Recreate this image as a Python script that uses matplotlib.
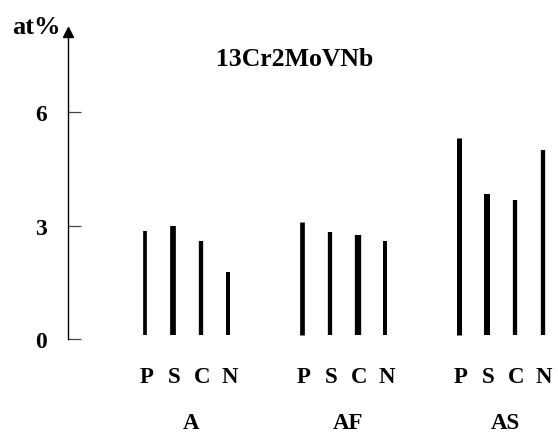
import matplotlib
matplotlib.use("Agg")
import matplotlib.pyplot as plt
import numpy as np

groups = ["A", "AF", "AS"]
elements = ["P", "S", "C", "N"]
values = {
    "A":  [2.87, 2.98, 2.59, 1.76],
    "AF": [3.09, 2.83, 2.74, 2.59],
    "AS": [5.32, 3.83, 3.68, 5.00],
}
yticks = [0, 3, 6]
title = "13Cr2MoVNb"
ylabel = "at%"

# style
bar_px = [[3.7, 5.7, 4.3, 4.0], [4.7, 4.3, 6.3, 4.0], [5.0, 6.0, 4.3, 4.3]]
group_step = 5.65
base = 0.1
font = "Liberation Serif"

W, H = 558, 439
fig = plt.figure(figsize=(W / 100, H / 100), dpi=100)
ax_left, ax_bottom_px, ax_top_px = 68, 340, 33
ax = fig.add_axes([ax_left / W, (H - ax_bottom_px) / H, (W - ax_left) / W,
                   (ax_bottom_px - ax_top_px) / H])
px_per_unit_x = 27.8
first_bar_px = 145
ax.set_xlim((ax_left - first_bar_px) / px_per_unit_x, (W - first_bar_px) / px_per_unit_x)
ymax = (ax_bottom_px - ax_top_px) / 37.8
ax.set_ylim(0, ymax)

for gi, g in enumerate(groups):
    xs = gi * group_step + np.arange(len(elements))
    for j, (x, v) in enumerate(zip(xs, values[g])):
        ax.vlines(x, base, v, color="black", linewidth=bar_px[gi][j] * 0.72)
    for x, e in zip(xs, elements):
        ax.text(x + 0.05, -1.0, e, ha="center", va="center", fontsize=16.5,
                fontweight="bold", family=font, clip_on=False)
    ax.text(xs.mean() + 0.15, -2.22, g, ha="center", va="center", fontsize=16.5,
            fontweight="bold", family=font, clip_on=False)

for s in ["top", "right", "bottom"]:
    ax.spines[s].set_visible(False)
ax.spines["left"].set_linewidth(1.0)
ax.set_xticks([])
ax.set_yticks(yticks)
ax.set_yticklabels([str(t) for t in yticks], fontsize=17, fontweight="bold", family=font)
ax.tick_params(axis="y", direction="in", length=9.5, width=0.9, color="#444444", pad=15)
ax.plot(0, 1, marker="^", color="black", markersize=7, transform=ax.transAxes, clip_on=False)
fig.text(36 / W, 1 - 27 / H, ylabel, ha="center", va="center", fontsize=19,
         fontweight="bold", family=font)
fig.text(295 / W, 1 - 60 / H, title, ha="center", va="center", fontsize=18.5,
         fontweight="bold", family=font)

fig.savefig("out.png", dpi=100)
